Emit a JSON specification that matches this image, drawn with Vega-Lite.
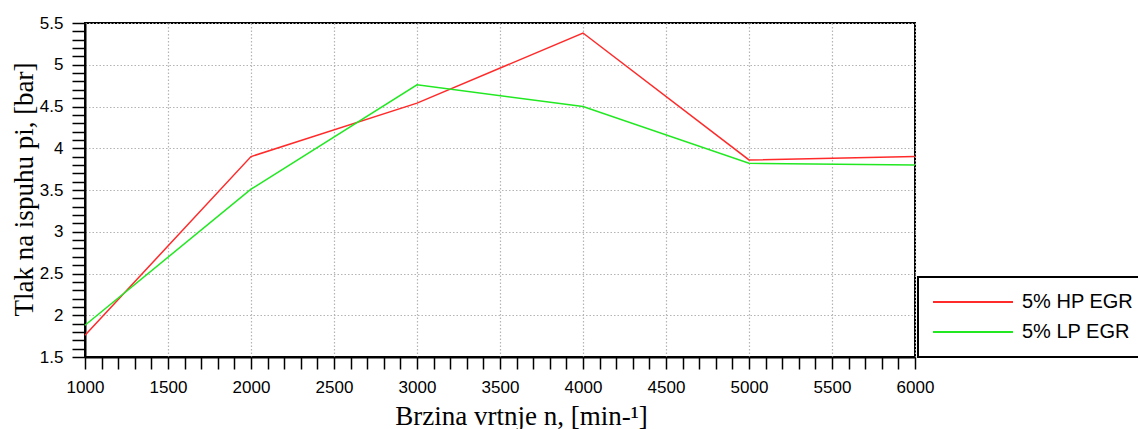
{
  "$schema": "https://vega.github.io/schema/vega-lite/v6.json",
  "width": 830,
  "height": 334,
  "autosize": {"type": "none"},
  "padding": {"left": 85, "top": 23, "right": 223, "bottom": 72},
  "background": "white",
  "config": {
    "view": {"stroke": "black", "strokeWidth": 2},
    "axis": {
      "domainColor": "black",
      "domainWidth": 2,
      "tickColor": "black",
      "tickWidth": 1.5,
      "gridColor": "#b4b4b4",
      "gridDash": [1.5, 2],
      "gridWidth": 1.2,
      "labelFont": "Liberation Sans",
      "labelFontSize": 17,
      "labelColor": "black",
      "labelOverlap": false,
      "labelFlush": false,
      "labelBound": false,
      "titleFont": "Liberation Serif",
      "titleFontSize": 27,
      "titleFontWeight": "normal",
      "titleColor": "black"
    }
  },
  "data": {
    "values": [
      {"n": 1000, "pi": 1.76, "series": "5% HP EGR"},
      {"n": 2000, "pi": 3.9, "series": "5% HP EGR"},
      {"n": 3000, "pi": 4.54, "series": "5% HP EGR"},
      {"n": 4000, "pi": 5.38, "series": "5% HP EGR"},
      {"n": 5000, "pi": 3.86, "series": "5% HP EGR"},
      {"n": 6000, "pi": 3.9, "series": "5% HP EGR"},
      {"n": 1000, "pi": 1.88, "series": "5% LP EGR"},
      {"n": 2000, "pi": 3.51, "series": "5% LP EGR"},
      {"n": 3000, "pi": 4.76, "series": "5% LP EGR"},
      {"n": 4000, "pi": 4.5, "series": "5% LP EGR"},
      {"n": 5000, "pi": 3.82, "series": "5% LP EGR"},
      {"n": 6000, "pi": 3.8, "series": "5% LP EGR"}
    ]
  },
  "mark": {"type": "line", "strokeWidth": 1.5},
  "encoding": {
    "x": {
      "field": "n",
      "type": "quantitative",
      "scale": {"domain": [1000, 6000], "nice": false, "zero": false},
      "axis": {
        "title": "Brzina vrtnje n, [min-¹]",
        "values": [1000,1100,1200,1300,1400,1500,1600,1700,1800,1900,2000,2100,2200,2300,2400,2500,2600,2700,2800,2900,3000,3100,3200,3300,3400,3500,3600,3700,3800,3900,4000,4100,4200,4300,4400,4500,4600,4700,4800,4900,5000,5100,5200,5300,5400,5500,5600,5700,5800,5900,6000],
        "labelExpr": "datum.value % 500 === 0 ? '' + datum.value : ''",
        "tickSize": 12,
        "gridOpacity": {"condition": {"test": "datum.value % 500 === 0", "value": 1}, "value": 0},
        "labelPadding": 10,
        "titleX": 436,
        "titleY": 67,
        "titleBaseline": "alphabetic",
        "titleAnchor": "middle",
        "titleAlign": "center",
        "encode": {"ticks": {"update": {"y2": {"signal": "datum.value % 500 === 0 ? 12 : 6"}}}}
      }
    },
    "y": {
      "field": "pi",
      "type": "quantitative",
      "scale": {"domain": [1.5, 5.5], "nice": false, "zero": false},
      "axis": {
        "title": "Tlak na ispuhu pi, [bar]",
        "values": [1.5,1.6,1.7,1.8,1.9,2.0,2.1,2.2,2.3,2.4,2.5,2.6,2.7,2.8,2.9,3.0,3.1,3.2,3.3,3.4,3.5,3.6,3.7,3.8,3.9,4.0,4.1,4.2,4.3,4.4,4.5,4.6,4.7,4.8,4.9,5.0,5.1,5.2,5.3,5.4,5.5],
        "labelExpr": "round(datum.value * 10) % 5 === 0 ? '' + (round(datum.value * 10) / 10) : ''",
        "tickSize": 13,
        "gridOpacity": {"condition": {"test": "round(datum.value * 10) % 5 === 0", "value": 1}, "value": 0},
        "labelPadding": 9,
        "titleX": -53,
        "titleY": 166,
        "titleAngle": -90,
        "titleBaseline": "alphabetic",
        "titleAlign": "center",
        "titleAnchor": "middle",
        "encode": {"ticks": {"update": {"x2": {"signal": "round(datum.value * 10) % 5 === 0 ? -13 : -8"}}}}
      }
    },
    "color": {
      "field": "series",
      "type": "nominal",
      "scale": {"domain": ["5% HP EGR", "5% LP EGR"], "range": ["#ff2a2a", "#22e822"]},
      "legend": {
        "title": null,
        "orient": "none",
        "legendX": 833,
        "legendY": 254,
        "direction": "vertical",
        "strokeColor": "black",
        "fillColor": "white",
        "padding": 14,
        "symbolType": "stroke",
        "symbolSize": 6400,
        "clipHeight": 22,
        "symbolStrokeWidth": 2,
        "labelFont": "Liberation Sans",
        "labelFontSize": 20,
        "labelColor": "black",
        "labelOffset": 8,
        "rowPadding": 8,
        "labelLimit": 400,
        "labelExpr": "datum.label + '\u00a0\u00a0\u00a0\u00a0\u00a0'",
        "encode": {"legend": {"update": {"strokeWidth": {"value": 2}}}}
      }
    }
  }
}
